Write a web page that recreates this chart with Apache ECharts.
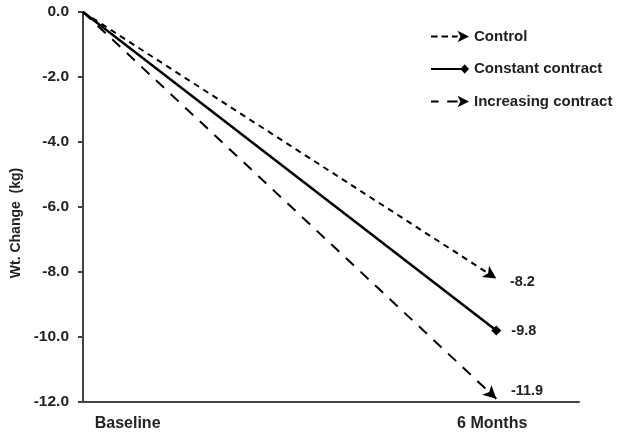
<!DOCTYPE html>
<html>
<head>
<meta charset="utf-8">
<script src="https://cdn.jsdelivr.net/npm/echarts@6/dist/echarts.min.js"></script>
<style>
    html, body { margin: 0; padding: 0; background: #fff; }
    #chart { width: 619px; height: 438px; }
</style>
</head>
<body>
<div id="chart"></div>
<script>
// Data
const categories = ['Baseline', '6 Months'];
const seriesNames = ['Control', 'Constant contract', 'Increasing contract'];
const controlValues = [0, -8.2];
const constantValues = [0, -9.8];
const increasingValues = [0, -11.9];
const yTicks = [0, -2, -4, -6, -8, -10, -12];

document.addEventListener('DOMContentLoaded', function () {
    const chartDom = document.getElementById('chart');
    const myChart = echarts.init(chartDom);
    const font = '"Liberation Sans", Arial, sans-serif';

    // where the two category labels sit along the x scale (0 = Baseline point, 1 = 6 Months point)
    const labelSpots = [0.108, 0.99];

    // legend icons drawn as filled paths so dashes show up
    const icons = [
        'path://M0,5h7v2h-7z M11,5h7v2h-7z M22,5h6v2h-6z M28,0L40,6L28,12L31,6z',
        'path://M0,5h33v2h-33z M31,6L35.5,1L40,6L35.5,11z',
        'path://M0,5h8v2h-8z M17,5h11v2h-11z M28,0L40,6L28,12L31,6z'
    ];
    const dashes = [[6, 5], null, [11, 9]];
    const endSymbols = ['arrow', 'diamond', 'arrow'];
    const endSizes = [[10, 13], [10, 10], [10, 13]];
    const labelOffsets = [[0, 7], [0, 0], [0, -3]];
    const valueSets = [controlValues, constantValues, increasingValues];

    function buildSeries(rotations) {
        return valueSets.map(function (vals, i) {
            return {
                name: seriesNames[i],
                type: 'line',
                color: '#000',
                lineStyle: {
                    width: i === 1 ? 2.5 : 2,
                    type: dashes[i] || 'solid',
                    color: '#000'
                },
                itemStyle: { color: '#000' },
                data: vals.map(function (v, j) {
                    if (j === 0) {
                        return { value: [j, v], symbol: 'none' };
                    }
                    return {
                        value: [j, v],
                        symbol: endSymbols[i],
                        symbolSize: endSizes[i],
                        symbolRotate: rotations ? rotations[i] : 0,
                        label: {
                            show: true,
                            position: 'right',
                            distance: 10,
                            offset: labelOffsets[i],
                            formatter: v.toFixed(1),
                            color: '#222',
                            fontFamily: font,
                            fontWeight: 'bold',
                            fontSize: 14.5
                        }
                    };
                })
            };
        });
    }

    const option = {
        animation: false,
        backgroundColor: '#fff',
        grid: {
            left: 83,
            right: 40,
            top: 12,
            bottom: 36
        },
        legend: {
            orient: 'vertical',
            left: 426,
            top: 24,
            itemWidth: 38,
            itemHeight: 12,
            itemGap: 17.5,
            data: seriesNames.map(function (n, i) {
                return { name: n, icon: icons[i] };
            }),
            itemStyle: { color: '#000', borderWidth: 0 },
            textStyle: {
                color: '#222',
                fontFamily: font,
                fontWeight: 'bold',
                fontSize: 15
            }
        },
        xAxis: {
            type: 'value',
            min: 0,
            max: 1.2,
            splitLine: { show: false },
            axisLine: { onZero: false, lineStyle: { color: '#444', width: 2 } },
            axisTick: { show: false },
            axisLabel: {
                customValues: labelSpots,
                margin: 14,
                color: '#222',
                fontFamily: font,
                fontWeight: 'bold',
                fontSize: 16,
                formatter: function (val) {
                    const idx = labelSpots.indexOf(val);
                    return idx >= 0 ? categories[idx] : '';
                }
            }
        },
        yAxis: {
            type: 'value',
            min: yTicks[yTicks.length - 1],
            max: yTicks[0],
            interval: 2,
            name: 'Wt. Change  (kg)',
            nameLocation: 'middle',
            nameGap: 56,
            nameRotate: 90,
            nameTextStyle: {
                color: '#222',
                fontFamily: font,
                fontWeight: 'bold',
                fontSize: 14,
                padding: [0, 32, 0, 0]
            },
            splitLine: { show: false },
            axisLine: { onZero: false, lineStyle: { color: '#444', width: 2 } },
            axisTick: { show: true, inside: false, length: 5, lineStyle: { color: '#444', width: 2 } },
            axisLabel: {
                margin: 14,
                color: '#222',
                fontFamily: font,
                fontWeight: 'bold',
                fontSize: 15.5,
                formatter: function (v) { return v.toFixed(1); }
            }
        },
        series: buildSeries(null)
    };

    myChart.setOption(option);

    // point the arrowheads along each line
    const rotations = valueSets.map(function (vals, i) {
        const p0 = myChart.convertToPixel({ seriesIndex: i }, [0, vals[0]]);
        const p1 = myChart.convertToPixel({ seriesIndex: i }, [1, vals[1]]);
        const ang = Math.atan2(p1[1] - p0[1], p1[0] - p0[0]) * 180 / Math.PI;
        return endSymbols[i] === 'arrow' ? -(90 + ang) : 0;
    });
    myChart.setOption({ series: buildSeries(rotations) });

    window.addEventListener('resize', function () {
        myChart.resize();
    });
});
</script>
</body>
</html>
